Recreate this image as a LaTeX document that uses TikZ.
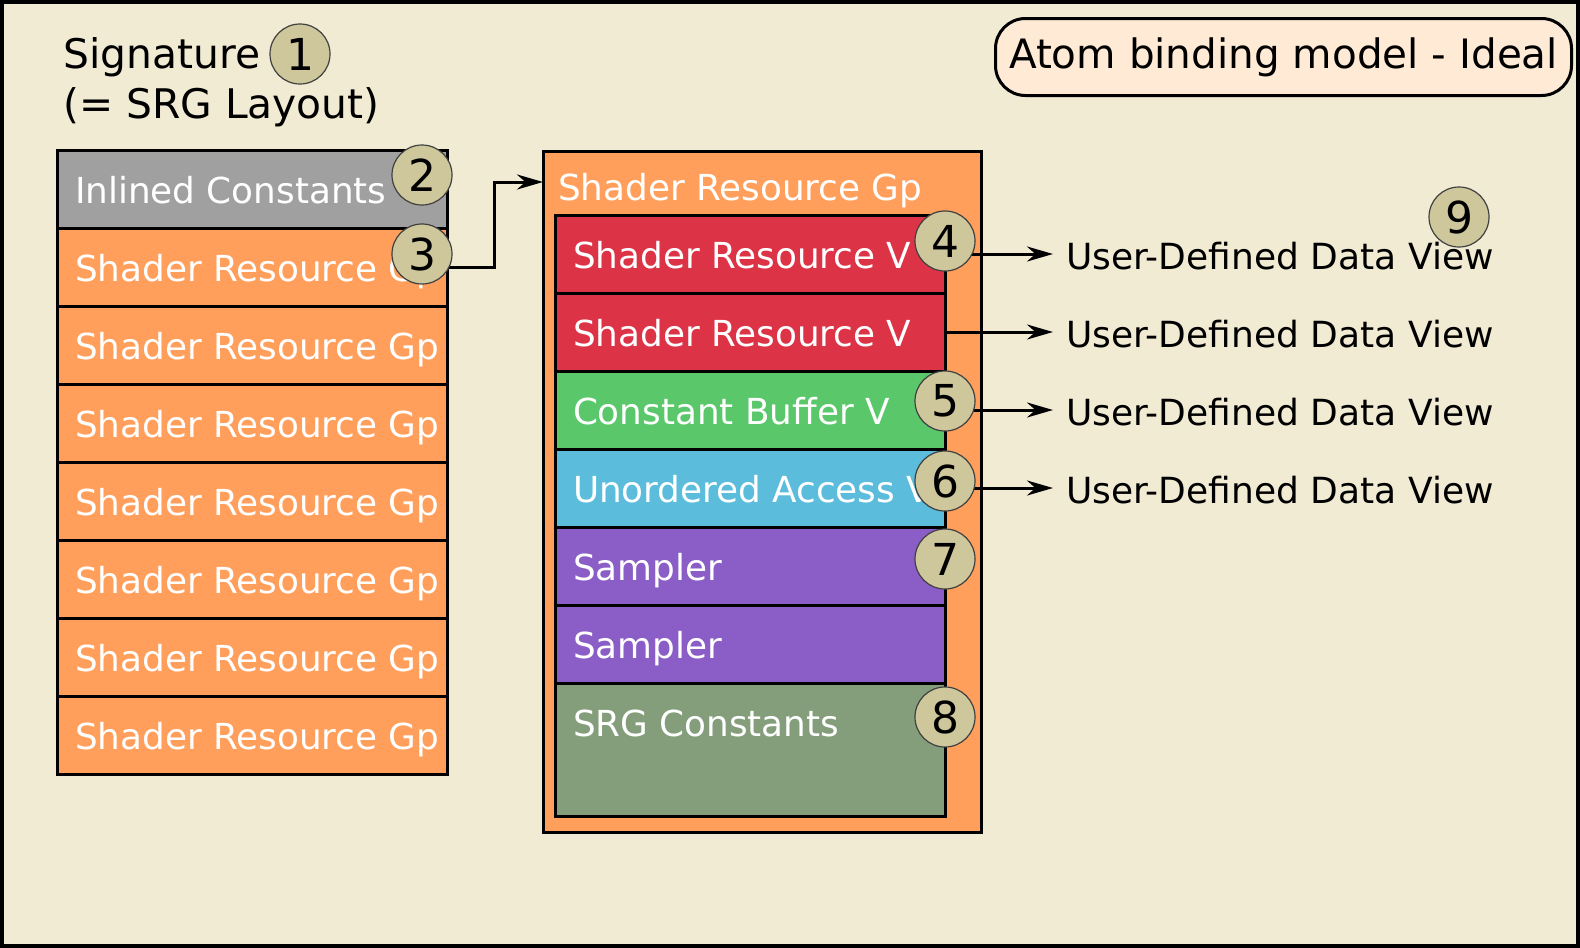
\documentclass[tikz,border=0pt]{standalone}
\usepackage{fontspec}
\setmainfont{DejaVu Sans}
\usetikzlibrary{positioning,arrows.meta}

\definecolor{paper}{HTML}{F1EBD4}
\definecolor{grpfill}{HTML}{FF9F5B}
\definecolor{incfill}{HTML}{A0A0A0}
\definecolor{srvfill}{HTML}{DC3346}
\definecolor{cbvfill}{HTML}{5AC86A}
\definecolor{uavfill}{HTML}{5BBCDC}
\definecolor{smpfill}{HTML}{8A5EC6}
\definecolor{cstfill}{HTML}{849E7B}
\definecolor{badgefill}{HTML}{CEC79C}
\definecolor{tagfill}{HTML}{FFEAD5}

\newcommand\slottext[1]{\makebox[354pt][l]{#1}}

\tikzset{
  slot/.style={draw=black, line width=3pt, minimum width=390pt, minimum height=78pt,
    inner xsep=18pt, inner ysep=0pt, outer sep=0pt, text=white,
    font=\fontsize{35.8}{40}\selectfont, text height=30pt, text depth=1pt},
  badge/.style={circle, draw=black!75, line width=1.2pt, fill=badgefill,
    minimum size=60pt, inner sep=0pt, font=\fontsize{44}{48}\selectfont},
  viewlabel/.style={anchor=west, inner xsep=13pt, inner ysep=0pt,
    font=\fontsize{36}{40}\selectfont, text height=30pt, text depth=0pt},
  feed/.style={line width=3pt, -{Stealth[length=26pt,width=15pt]}}
}

\begin{document}
\begin{tikzpicture}[x=1pt, y=-1pt]
    % page
    \useasboundingbox (0,0) rectangle (1580,948);
    \fill[paper] (0,0) rectangle (1580,948);
    \draw[line width=4pt] (2,2) rectangle (1578,946);

    % signature (left)
    \node[anchor=base west, inner sep=0pt, font=\fontsize{40.8}{48}\selectfont] (sig) at (63,68) {Signature};
    \node[anchor=base west, inner sep=0pt, font=\fontsize{40.8}{48}\selectfont] (sigsub) at (63,118) {(= SRG Layout)};
    \node[slot, fill=incfill, anchor=north west] (l1) at (57,150) {\slottext{Inlined Constants}};
    \foreach \i [remember=\i as \j (initially 1)] in {2,...,8}
        \node[slot, fill=grpfill, below=0pt of l\j] (l\i) {\slottext{Shader Resource Gp}};

    % shader resource group (middle)
    \node[draw=black, line width=3pt, fill=grpfill, minimum width=438pt, minimum height=681pt,
          outer sep=0pt, anchor=north west] (srg) at (543,151) {};
    \node[anchor=base west, inner sep=0pt, text=white, font=\fontsize{35.8}{40}\selectfont] (srgtitle) at (558,200) {Shader Resource Gp};
    \coordinate (srgin) at ([yshift=-31pt]srg.north west);
    \node[slot, fill=srvfill, anchor=north west] (r1) at (555,215) {\slottext{Shader Resource V}};
    \node[slot, fill=srvfill, below=0pt of r1] (r2) {\slottext{Shader Resource V}};
    \node[slot, fill=cbvfill, below=0pt of r2] (r3) {\slottext{Constant Buffer V}};
    \node[slot, fill=uavfill, below=0pt of r3] (r4) {\slottext{Unordered Access V}};
    \node[slot, fill=smpfill, below=0pt of r4] (r5) {\slottext{Sampler}};
    \node[slot, fill=smpfill, below=0pt of r5] (r6) {\slottext{Sampler}};
    \node[slot, fill=cstfill, below=0pt of r6, minimum height=133pt, text depth=56pt] (r7) {\slottext{SRG Constants}};

    % views (right)
    \foreach \i in {1,...,4} {
        \node[viewlabel] (v\i) at ([xshift=108pt]r\i.east) {User-Defined Data View};
        \draw[feed] (r\i.east) -- (v\i.west);
    }
    \draw[feed] (l2.east) -- ++(47,0) |- (srgin);

    \node[draw=black, line width=3pt, rounded corners=30pt, fill=tagfill, minimum width=576pt,
          minimum height=77pt, anchor=north west, font=\fontsize{40.5}{48}\selectfont] (tag) at (994,17) {Atom binding model - Ideal};

    % numbered badges
    \node[badge] (c1) at (300,54) {1};
    \node[badge] (c2) at ([xshift=-25pt, yshift=-25pt]l1.north east) {2};
    \node[badge] (c3) at ([xshift=-25pt, yshift=-26pt]l2.north east) {3};
    \node[badge] (c4) at ([yshift=-26pt]r1.north east) {4};
    \node[badge] (c5) at ([yshift=-30pt]r3.north east) {5};
    \node[badge] (c6) at ([yshift=-32pt]r4.north east) {6};
    \node[badge] (c7) at ([yshift=-32pt]r5.north east) {7};
    \node[badge] (c8) at ([yshift=-34pt]r7.north east) {8};
    \node[badge] (c9) at (1459,217) {9};
\end{tikzpicture}
\end{document}
